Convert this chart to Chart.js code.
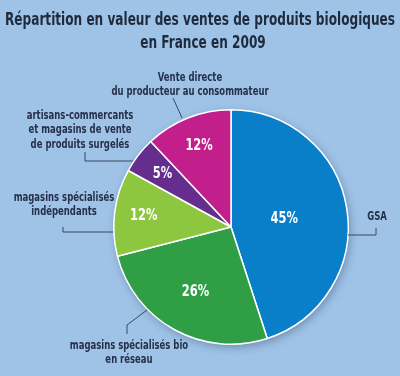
<!DOCTYPE html>
<html>
<head>
<meta charset="utf-8">
<script src="https://cdn.jsdelivr.net/npm/chart.js@4.4.1/dist/chart.umd.min.js"></script>
<style>
  html, body { margin: 0; padding: 0; background: #9ec3e6; }
  #wrap { width: 400px; height: 376px; }
</style>
</head>
<body>
<div id="wrap"><canvas id="myChart" width="400" height="376"></canvas></div>
<script>
var titleLines = ['Répartition en valeur des ventes de produits biologiques', 'en France en 2009'];
var categories = [
    ['GSA'],
    ['magasins spécialisés bio', 'en réseau'],
    ['magasins spécialisés', 'indépendants'],
    ['artisans-commercants', 'et magasins de vente', 'de produits surgelés'],
    ['Vente directe', 'du producteur au consommateur']
];
var shares = [45, 26, 12, 5, 12];
var sliceColors = ['#0a7fc9', '#2f9e45', '#8dc63f', '#652d8e', '#c21f8c'];

// placement of the outside labels, relative to the pie centre (px)
var labelStyle = [
    { text: [146, -10], line: [[117, 8], [145, 8], [145, 1]] },
    { text: [-102, 119], line: [[-104, 107], [-104, 98], [-84, 83]] },
    { text: [-167, -29], line: [[-168, 0], [-168, 5], [-118, 5]] },
    { text: [-151, -111], line: [[-146, -75], [-146, -66], [-98, -66]] },
    { text: [-41, -149], line: [[-58, -129], [-53, -118], [-49, -109]] }
];
var pctRadius = [0.46, 0.63, 0.75, 0.74, 0.74];

var FONT = '"DejaVu Sans Condensed", "Liberation Sans Narrow", sans-serif';

// draw text squeezed horizontally to imitate a condensed face
function narrowText(ctx, text, x, y, sx) {
    ctx.save();
    ctx.translate(x, y);
    ctx.scale(sx, 1);
    ctx.fillText(text, 0, 0);
    ctx.restore();
}

var pieDecor = {
    id: 'pieDecor',
    beforeDatasetsDraw: function(chart) {
        var arc = chart.getDatasetMeta(0).data[0];
        var ctx = chart.ctx;
        ctx.save();
        ctx.shadowColor = 'rgba(20,40,80,0.35)';
        ctx.shadowBlur = 8;
        ctx.shadowOffsetX = 2;
        ctx.shadowOffsetY = 3;
        ctx.fillStyle = '#9ec3e6';
        ctx.beginPath();
        ctx.arc(arc.x, arc.y, arc.outerRadius, 0, Math.PI * 2);
        ctx.fill();
        ctx.restore();
    },
    afterDraw: function(chart) {
        var ctx = chart.ctx;
        var meta = chart.getDatasetMeta(0);
        var cx = meta.data[0].x, cy = meta.data[0].y;
        ctx.save();
        // title
        ctx.fillStyle = '#1f2b3c';
        ctx.textAlign = 'center';
        ctx.textBaseline = 'middle';
        ctx.font = 'bold 18px ' + FONT;
        var tsx = 390 / ctx.measureText(titleLines[0]).width;
        narrowText(ctx, titleLines[0], 200, 20, tsx);
        narrowText(ctx, titleLines[1], 203, 43, tsx);

        meta.data.forEach(function(arc, i) {
            var p = arc.getProps(['startAngle', 'endAngle', 'outerRadius']);
            var mid = (p.startAngle + p.endAngle) / 2;
            var rr = p.outerRadius * pctRadius[i];
            ctx.fillStyle = '#ffffff';
            ctx.font = 'bold 15.5px ' + FONT;
            narrowText(ctx, shares[i] + '%', cx + Math.cos(mid) * rr, cy + Math.sin(mid) * rr, 0.82);

            var st = labelStyle[i];
            ctx.strokeStyle = '#3a4762';
            ctx.lineWidth = 1;
            ctx.beginPath();
            st.line.forEach(function(pt, k) {
                if (k === 0) ctx.moveTo(cx + pt[0], cy + pt[1]);
                else ctx.lineTo(cx + pt[0], cy + pt[1]);
            });
            ctx.stroke();

            ctx.fillStyle = '#27304a';
            ctx.font = 'bold 11.5px ' + FONT;
            categories[i].forEach(function(t, k) {
                narrowText(ctx, t, cx + st.text[0], cy + st.text[1] + k * 14.5, 0.82);
            });
        });
        ctx.restore();
    }
};

var ctx = document.getElementById('myChart').getContext('2d');
var myChart = new Chart(ctx, {
    type: 'pie',
    data: {
        labels: categories.map(function(c) { return c.join(' '); }),
        datasets: [{
            data: shares,
            backgroundColor: sliceColors,
            borderColor: '#ffffff',
            borderWidth: 1.5
        }]
    },
    options: {
        responsive: false,
        animation: false,
        events: [],
        layout: {
            padding: { left: 113, right: 51, top: 109, bottom: 31 }
        },
        plugins: {
            legend: { display: false },
            tooltip: { enabled: false },
            title: { display: false }
        }
    },
    plugins: [pieDecor]
});
</script>
</body>
</html>
